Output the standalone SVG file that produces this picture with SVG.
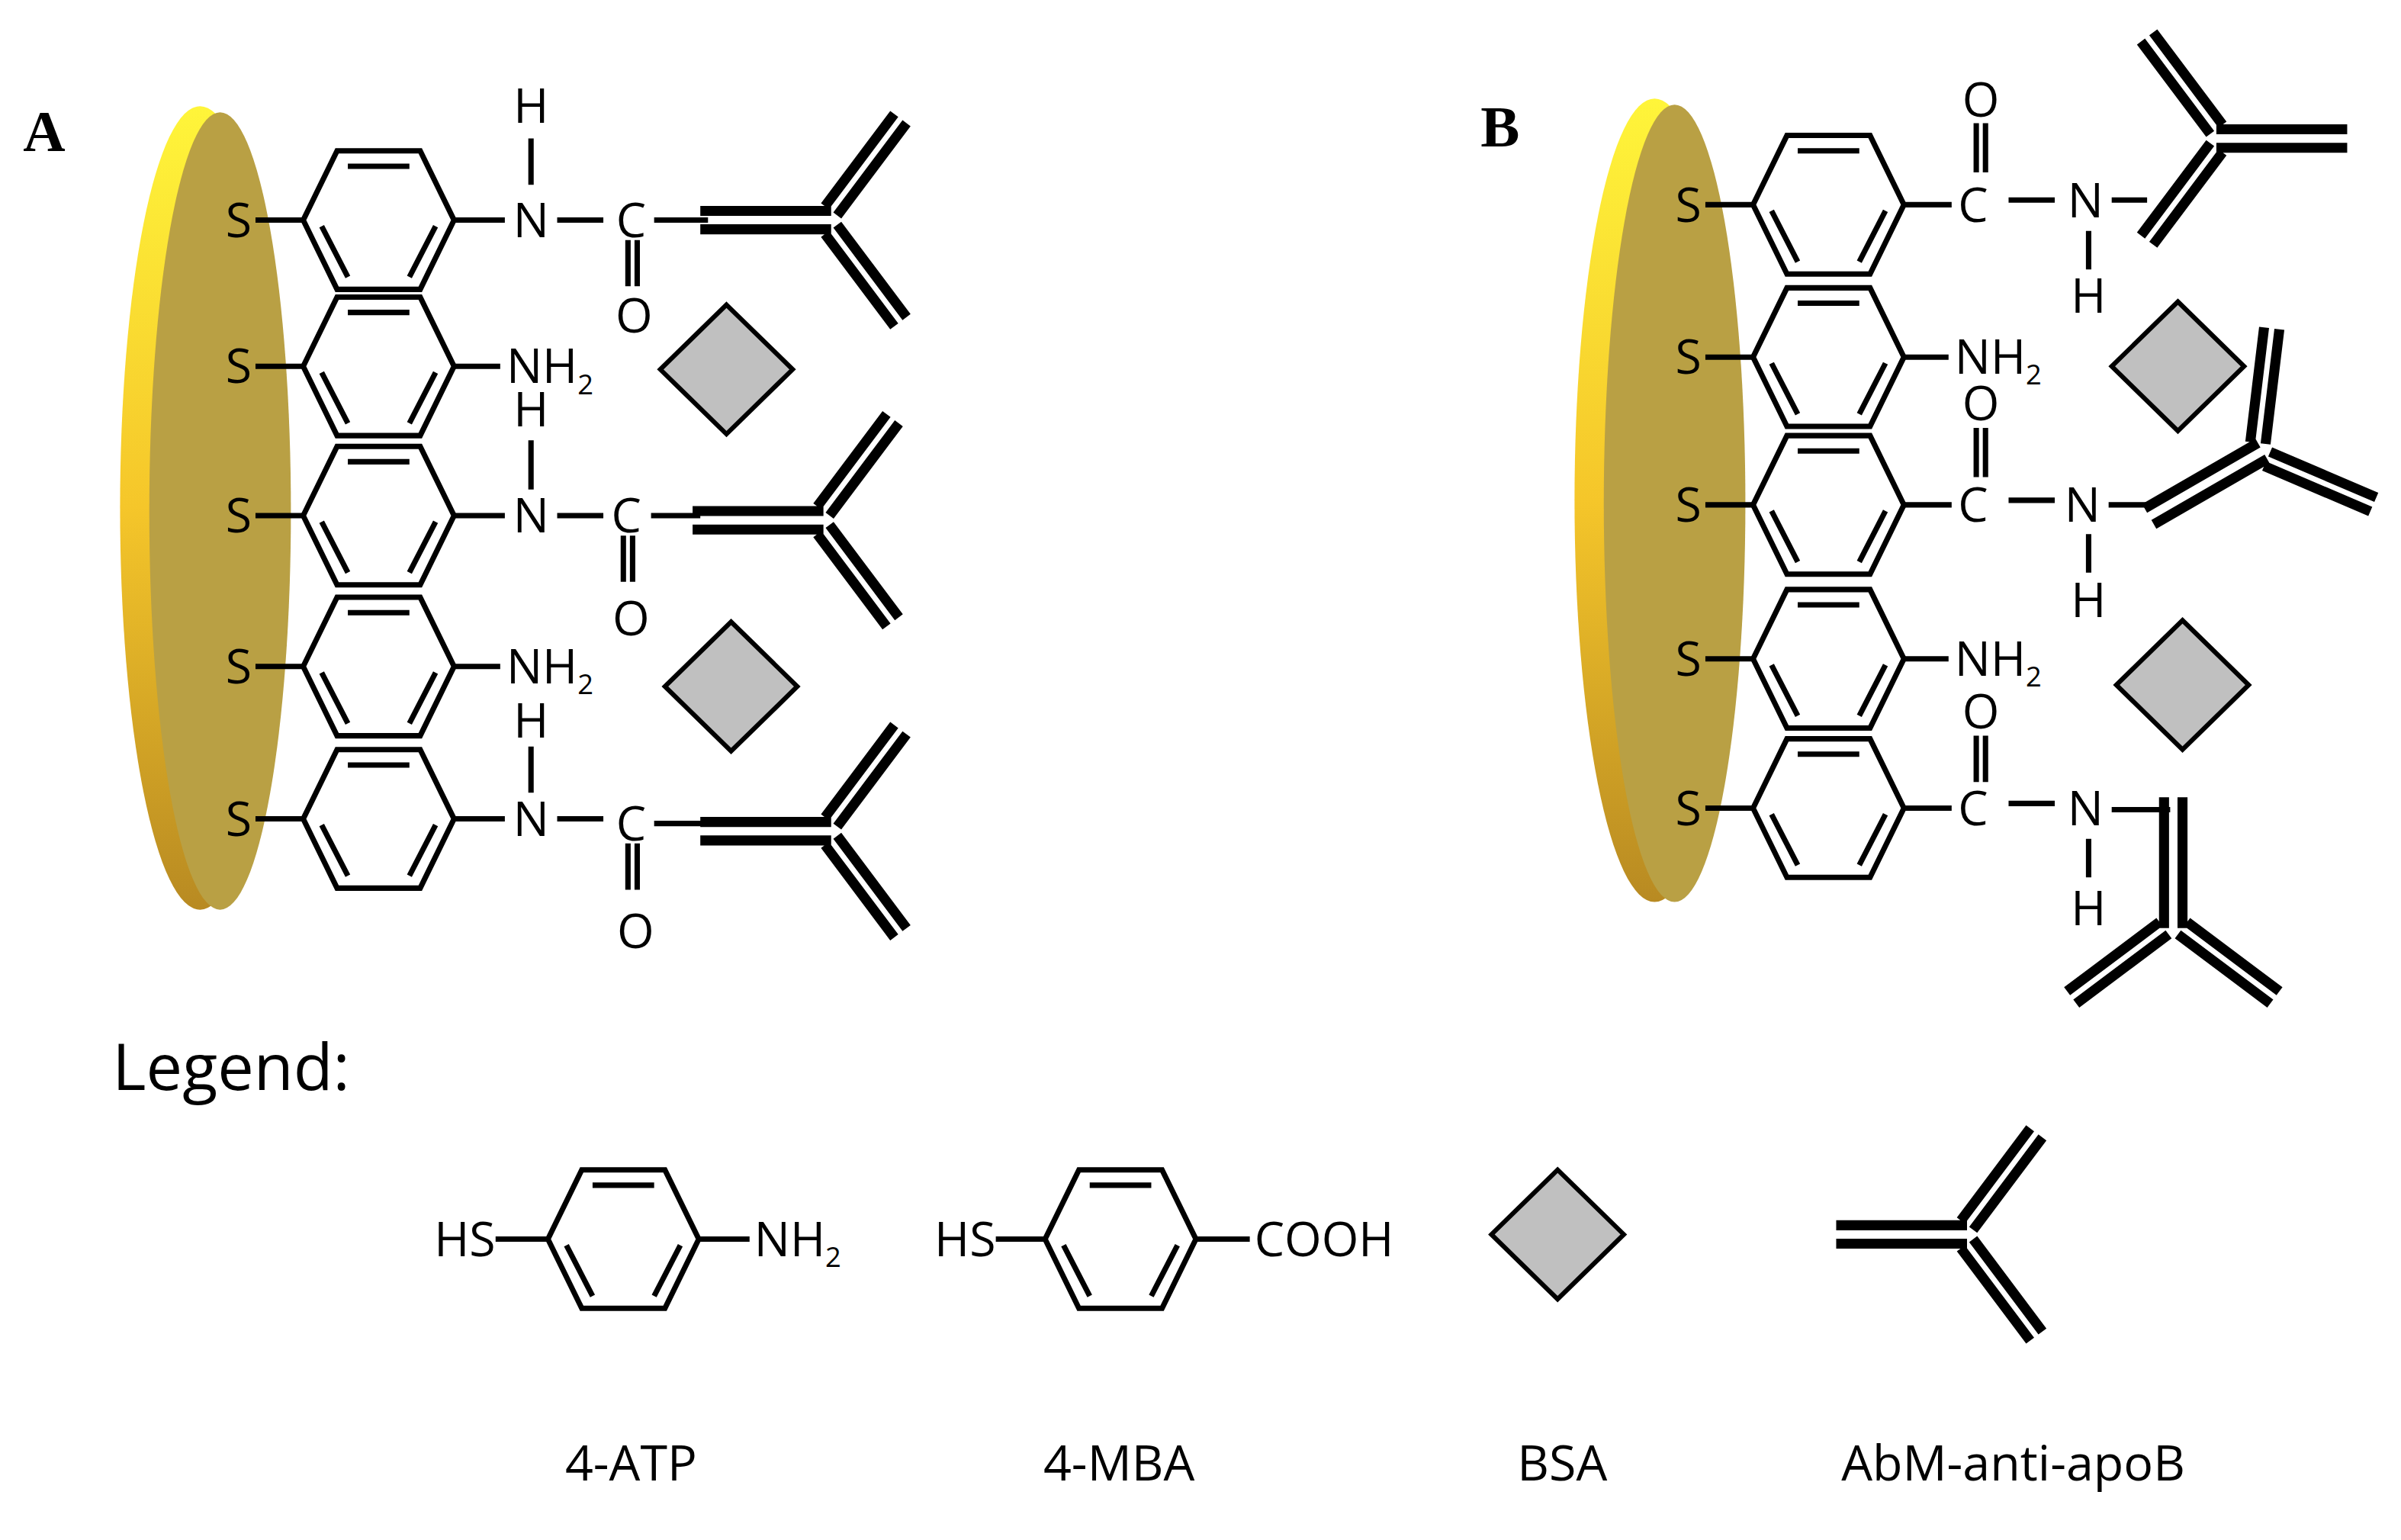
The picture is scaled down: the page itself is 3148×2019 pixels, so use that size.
<svg xmlns="http://www.w3.org/2000/svg" xmlns:xlink="http://www.w3.org/1999/xlink" width="3148" height="2019" viewBox="0 0 3148 2019">
<style>
.b{stroke:#000;stroke-width:3.5;fill:none;stroke-linecap:butt}
.t{font-family:"Open Sans","Noto Sans","Liberation Sans",sans-serif;font-size:31px;fill:#000;text-anchor:middle}
.l{text-anchor:start}
.s{font-size:18px}
.ab{stroke:#000;stroke-width:6.5;fill:none}
.bsa{fill:#c0c0c0;stroke:#000;stroke-width:3}
.lab{font-family:"Open Sans","Noto Sans","Liberation Sans",sans-serif;font-size:32px;fill:#000;text-anchor:middle}
.hd{font-family:"Liberation Serif",serif;font-weight:bold;font-size:38px}
</style>
<defs>
<linearGradient id="gy" x1="0" y1="0" x2="0" y2="1">
<stop offset="0" stop-color="#fff53a"/><stop offset="0.5" stop-color="#f5c62a"/><stop offset="1" stop-color="#b88a22"/>
</linearGradient>
<g id="hex"><polygon class="b" points="-49,0 -27,-45 27,-45 49,0 27,45 -27,45"/>
<path class="b" d="M-20,-35H20M-37,4L-20,37M37,4L20,37"/></g>
<g id="ab"><path class="ab" d="M-85,-6H0M-85,6H0M-4,-9L41,-69M4,-3L49,-63M-4,9L41,69M4,3L49,63"/></g>
<polygon id="dia" class="bsa" points="0,-42 43,0 0,42 -43,0"/>
</defs>
<rect width="3148" height="2019" fill="#fff"/>
<g transform="scale(2.018)">
<text class="hd" x="15" y="98">A</text>
<text class="hd" x="962" y="95">B</text>
<g id="discA"><ellipse cx="130" cy="330" rx="52" ry="261" fill="url(#gy)"/><ellipse cx="143" cy="332" rx="46" ry="259" fill="#b9a044"/></g>
<g id="discB"><ellipse cx="1075" cy="325" rx="52" ry="261" fill="url(#gy)"/><ellipse cx="1088" cy="327" rx="46" ry="259" fill="#b9a044"/></g>

<g id="A1"><text class="t" x="155" y="154">S</text><path class="b" d="M166,143H197M295,143H328M362,143H392M425,143H460M345,90V120M408,156V186M414,156V186"/><use href="#hex" x="246" y="143"/>
<text class="t" x="345" y="80">H</text><text class="t" x="345" y="154">N</text><text class="t" x="410" y="154">C</text><text class="t" x="412" y="216">O</text></g>
<g id="A2"><text class="t" x="155" y="249">S</text><path class="b" d="M166,238H197M295,238H325"/><use href="#hex" x="246" y="238"/><text class="t l" x="329" y="249">NH<tspan class="s" dy="7">2</tspan></text></g>
<g id="A3"><text class="t" x="155" y="346">S</text><path class="b" d="M166,335H197M295,335H328M362,335H392M423,335H455M345,286V318M405,348V378M411,348V378"/><use href="#hex" x="246" y="335"/>
<text class="t" x="345" y="277">H</text><text class="t" x="345" y="346">N</text><text class="t" x="407" y="346">C</text><text class="t" x="410" y="413">O</text></g>
<g id="A4"><text class="t" x="155" y="444">S</text><path class="b" d="M166,433H197M295,433H325"/><use href="#hex" x="246" y="433"/><text class="t l" x="329" y="444">NH<tspan class="s" dy="7">2</tspan></text></g>
<g id="A5"><text class="t" x="155" y="543">S</text><path class="b" d="M166,532H197M295,532H328M362,532H392M425,535H460M345,485V515M408,548V578M414,548V578"/><use href="#hex" x="246" y="532"/>
<text class="t" x="345" y="479">H</text><text class="t" x="345" y="543">N</text><text class="t" x="410" y="546">C</text><text class="t" x="413" y="616">O</text></g>
<g id="abA"><use href="#ab" x="540" y="143"/><use href="#ab" x="535" y="338"/><use href="#ab" x="540" y="540"/></g>
<g id="bsaA"><use href="#dia" x="472" y="240"/><use href="#dia" x="475" y="446"/></g>

<g id="B1"><text class="t" x="1097" y="144">S</text><path class="b" d="M1108,133H1140M1236,133H1268M1305,130H1335M1372,130H1395M1284,80V112M1290,80V112M1357,150V175"/><use href="#hex" x="1188" y="133"/>
<text class="t" x="1287" y="76">O</text><text class="t" x="1282" y="144">C</text><text class="t" x="1355" y="141">N</text><text class="t" x="1357" y="203">H</text></g>
<g id="B2"><text class="t" x="1097" y="243">S</text><path class="b" d="M1108,232H1140M1236,232H1266"/><use href="#hex" x="1188" y="232"/><text class="t l" x="1270" y="243">NH<tspan class="s" dy="7">2</tspan></text></g>
<g id="B3"><text class="t" x="1097" y="339">S</text><path class="b" d="M1108,328H1140M1236,328H1268M1305,325H1335M1370,328H1400M1284,278V310M1290,278V310M1357,347V372"/><use href="#hex" x="1188" y="328"/>
<text class="t" x="1287" y="273">O</text><text class="t" x="1282" y="339">C</text><text class="t" x="1353" y="339">N</text><text class="t" x="1357" y="401">H</text></g>
<g id="B4"><text class="t" x="1097" y="439">S</text><path class="b" d="M1108,428H1140M1236,428H1266"/><use href="#hex" x="1188" y="428"/><text class="t l" x="1270" y="439">NH<tspan class="s" dy="7">2</tspan></text></g>
<g id="B5"><text class="t" x="1097" y="536">S</text><path class="b" d="M1108,525H1140M1236,525H1268M1305,522H1335M1372,526H1410M1284,478V508M1290,478V508M1357,545V570"/><use href="#hex" x="1188" y="525"/>
<text class="t" x="1287" y="473">O</text><text class="t" x="1282" y="536">C</text><text class="t" x="1355" y="536">N</text><text class="t" x="1357" y="601">H</text></g>
<g id="abB"><use href="#ab" transform="translate(1440,90) rotate(180)"/><use href="#ab" transform="translate(1470,293) rotate(-30)"/><use href="#ab" transform="translate(1412,603) rotate(90)"/></g>
<g id="bsaB"><use href="#dia" x="1415" y="238"/><use href="#dia" x="1418" y="445"/></g>

<text x="73" y="708" font-family="Open Sans,Noto Sans,sans-serif" font-size="42">Legend:</text>
<g id="L1"><text class="t" x="302" y="816">HS</text><path class="b" d="M322,805H357M453,805H487"/><use href="#hex" x="405" y="805"/><text class="t l" x="490" y="816">NH<tspan class="s" dy="7">2</tspan></text><text class="lab" x="410" y="962">4-ATP</text></g>
<g id="L2"><text class="t" x="627" y="816">HS</text><path class="b" d="M647,805H680M776,805H812"/><use href="#hex" x="728" y="805"/><text class="t l" x="815" y="816">COOH</text><text class="lab" x="727" y="962">4-MBA</text></g>
<g id="L3"><use href="#dia" x="1012" y="802"/><text class="lab" x="1015" y="962">BSA</text></g>
<g id="L4"><use href="#ab" x="1278" y="802"/><text class="lab" x="1308" y="962">AbM-anti-apoB</text></g>
</g>
</svg>
